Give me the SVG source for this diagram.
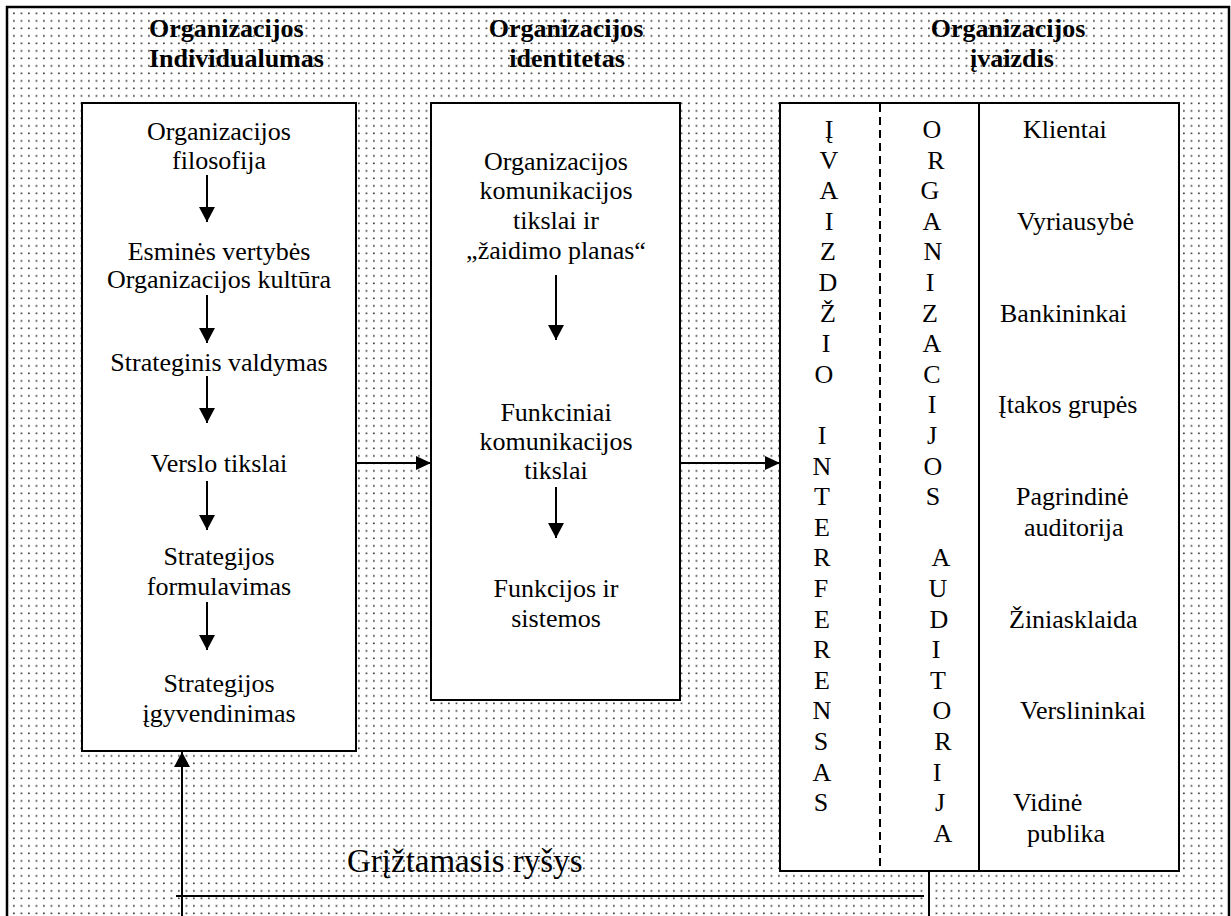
<svg xmlns="http://www.w3.org/2000/svg" width="1231" height="916" viewBox="0 0 1231 916">
  <defs>
    <pattern id="dots" x="0" y="0" width="7.5" height="7.5" patternUnits="userSpaceOnUse">
      <rect x="5.6" y="5.1" width="1.6" height="1.6" fill="#2a2a2a"/>
    </pattern>
    <marker id="head" markerUnits="userSpaceOnUse" markerWidth="17" markerHeight="16" refX="15" refY="8" orient="auto">
      <path d="M0,0 L15,8 L0,16 Z" fill="#000"/>
    </marker>
    <marker id="headS" markerUnits="userSpaceOnUse" markerWidth="16" markerHeight="14" refX="15" refY="7" orient="auto">
      <path d="M0,0 L15,7 L0,14 Z" fill="#000"/>
    </marker>
  </defs>
  <style>
    .box { fill: #fff; stroke: #000; stroke-width: 2; }
    text { font-family: 'Liberation Serif', Tinos, 'Times New Roman', Times, 'DejaVu Serif', serif; fill: #000; }
    .t { font-size: 26px; }
    .c { text-anchor: middle; }
    .title { font-size: 26px; font-weight: bold; }
    .big { font-size: 33px; }
    .ln { stroke: #000; stroke-width: 2; fill: none; }
    .arr { stroke: #000; stroke-width: 2; fill: none; marker-end: url(#head); }
    .arrS { stroke: #000; stroke-width: 2; fill: none; marker-end: url(#headS); }
  </style>

  <!-- dotted background and outer frame (open at the bottom) -->
  <rect x="7" y="7" width="1222" height="909" fill="url(#dots)"/>
  <path d="M7,916 V7 H1229 V916" fill="none" stroke="#000" stroke-width="2.5"/>

  <!-- column headings -->
  <g id="heading-individualumas">
    <text class="title" x="149" y="37">Organizacijos</text>
    <text class="title" x="149" y="67">Individualumas</text>
  </g>
  <g id="heading-identitetas">
    <text class="title c" x="566" y="37">Organizacijos</text>
    <text class="title c" x="567" y="67">identitetas</text>
  </g>
  <g id="heading-ivaizdis">
    <text class="title c" x="1008" y="37">Organizacijos</text>
    <text class="title c" x="1012" y="67">įvaizdis</text>
  </g>

  <!-- left node: organisation individuality -->
  <g id="node-individualumas">
    <rect class="box" x="82" y="103" width="274" height="648"/>
    <text class="t c" x="219" y="140">Organizacijos</text>
    <text class="t c" x="219" y="169">filosofija</text>
    <text class="t c" x="219" y="260">Esminės vertybės</text>
    <text class="t c" x="219" y="288">Organizacijos kultūra</text>
    <text class="t c" x="219" y="371">Strateginis valdymas</text>
    <text class="t c" x="219" y="472">Verslo tikslai</text>
    <text class="t c" x="219" y="565">Strategijos</text>
    <text class="t c" x="219" y="595">formulavimas</text>
    <text class="t c" x="219" y="692">Strategijos</text>
    <text class="t c" x="219" y="722">įgyvendinimas</text>
  </g>

  <!-- middle node: organisation identity -->
  <g id="node-identitetas">
    <rect class="box" x="431" y="103" width="249" height="597"/>
    <text class="t c" x="556" y="170">Organizacijos</text>
    <text class="t c" x="556" y="199">komunikacijos</text>
    <text class="t c" x="556" y="229">tikslai ir</text>
    <text class="t c" x="556" y="259">„žaidimo planas“</text>
    <text class="t c" x="556" y="421">Funkciniai</text>
    <text class="t c" x="556" y="450">komunikacijos</text>
    <text class="t c" x="556" y="479">tikslai</text>
    <text class="t c" x="556" y="597">Funkcijos ir</text>
    <text class="t c" x="556" y="627">sistemos</text>
  </g>

  <!-- right node: organisation image, audiences -->
  <g id="node-ivaizdis">
    <rect class="box" x="780" y="103" width="399" height="768"/>
    <line x1="880" y1="104" x2="880" y2="870" stroke="#000" stroke-width="2" stroke-dasharray="8,5"/>
    <line class="ln" x1="979" y1="104" x2="979" y2="870"/>
    <!-- vertical word: ĮVAIZDŽIO INTERFERENSAS -->
    <g class="t c">
      <text x="829" y="138">Į</text>
      <text x="829" y="168.6">V</text>
      <text x="829" y="199.2">A</text>
      <text x="829" y="229.8">I</text>
      <text x="828" y="260.4">Z</text>
      <text x="828" y="291">D</text>
      <text x="828" y="321.6">Ž</text>
      <text x="826" y="352.2">I</text>
      <text x="824" y="382.8">O</text>
      <text x="822" y="444">I</text>
      <text x="822" y="474.6">N</text>
      <text x="822" y="505.2">T</text>
      <text x="822" y="535.8">E</text>
      <text x="822" y="566.4">R</text>
      <text x="821" y="597">F</text>
      <text x="822" y="627.6">E</text>
      <text x="822" y="658.2">R</text>
      <text x="822" y="688.8">E</text>
      <text x="822" y="719.4">N</text>
      <text x="821" y="750">S</text>
      <text x="822" y="780.6">A</text>
      <text x="821" y="811.2">S</text>
    </g>
    <!-- vertical word: ORGANIZACIJOS AUDITORIJA -->
    <g class="t c">
      <text x="932" y="138">O</text>
      <text x="936" y="168.6">R</text>
      <text x="930" y="199.2">G</text>
      <text x="932" y="229.8">A</text>
      <text x="933" y="260.4">N</text>
      <text x="930" y="291">I</text>
      <text x="930" y="321.6">Z</text>
      <text x="932" y="352.2">A</text>
      <text x="932" y="382.8">C</text>
      <text x="932" y="413.4">I</text>
      <text x="932" y="444">J</text>
      <text x="933" y="474.6">O</text>
      <text x="933" y="505.2">S</text>
      <text x="941" y="566.4">A</text>
      <text x="938" y="597">U</text>
      <text x="939" y="627.6">D</text>
      <text x="936" y="658.2">I</text>
      <text x="938" y="688.8">T</text>
      <text x="942" y="719.4">O</text>
      <text x="943" y="750">R</text>
      <text x="937" y="780.6">I</text>
      <text x="940" y="811.2">J</text>
      <text x="943" y="841.8">A</text>
    </g>
    <!-- audience groups -->
    <text class="t" x="1023" y="138">Klientai</text>
    <text class="t" x="1017" y="229.8">Vyriausybė</text>
    <text class="t" x="1000" y="321.6">Bankininkai</text>
    <text class="t" x="998" y="413.4">Įtakos grupės</text>
    <text class="t" x="1016" y="505.2">Pagrindinė</text>
    <text class="t" x="1024" y="535.8">auditorija</text>
    <text class="t" x="1009" y="627.6">Žiniasklaida</text>
    <text class="t" x="1020" y="719.4">Verslininkai</text>
    <text class="t" x="1013" y="811.2">Vidinė</text>
    <text class="t" x="1027" y="841.8">publika</text>
  </g>

  <!-- feedback label -->
  <g id="label-feedback">
    <text class="big" x="347" y="872">Grįžtamasis ryšys</text>
  </g>

  <!-- connectors -->
  <g id="connectors">
    <!-- steps inside the individuality column -->
    <line class="arr" x1="207" y1="175" x2="207" y2="222"/>
    <line class="arr" x1="207" y1="295" x2="207" y2="343"/>
    <line class="arr" x1="207" y1="376" x2="207" y2="423"/>
    <line class="arr" x1="207" y1="481" x2="207" y2="530"/>
    <line class="arr" x1="207" y1="602" x2="207" y2="650"/>
    <!-- steps inside the identity column -->
    <line class="arr" x1="556" y1="275" x2="556" y2="340"/>
    <line class="arr" x1="556" y1="487" x2="556" y2="538"/>
    <!-- column to column -->
    <line class="arrS" x1="357" y1="463" x2="431" y2="463"/>
    <line class="arrS" x1="681" y1="463" x2="780" y2="463"/>
    <!-- feedback loop -->
    <line class="ln" x1="929" y1="871" x2="929" y2="916"/>
    <line class="ln" x1="176" y1="896" x2="924" y2="896"/>
    <line class="arr" x1="182" y1="916" x2="182" y2="752"/>
  </g>
</svg>
